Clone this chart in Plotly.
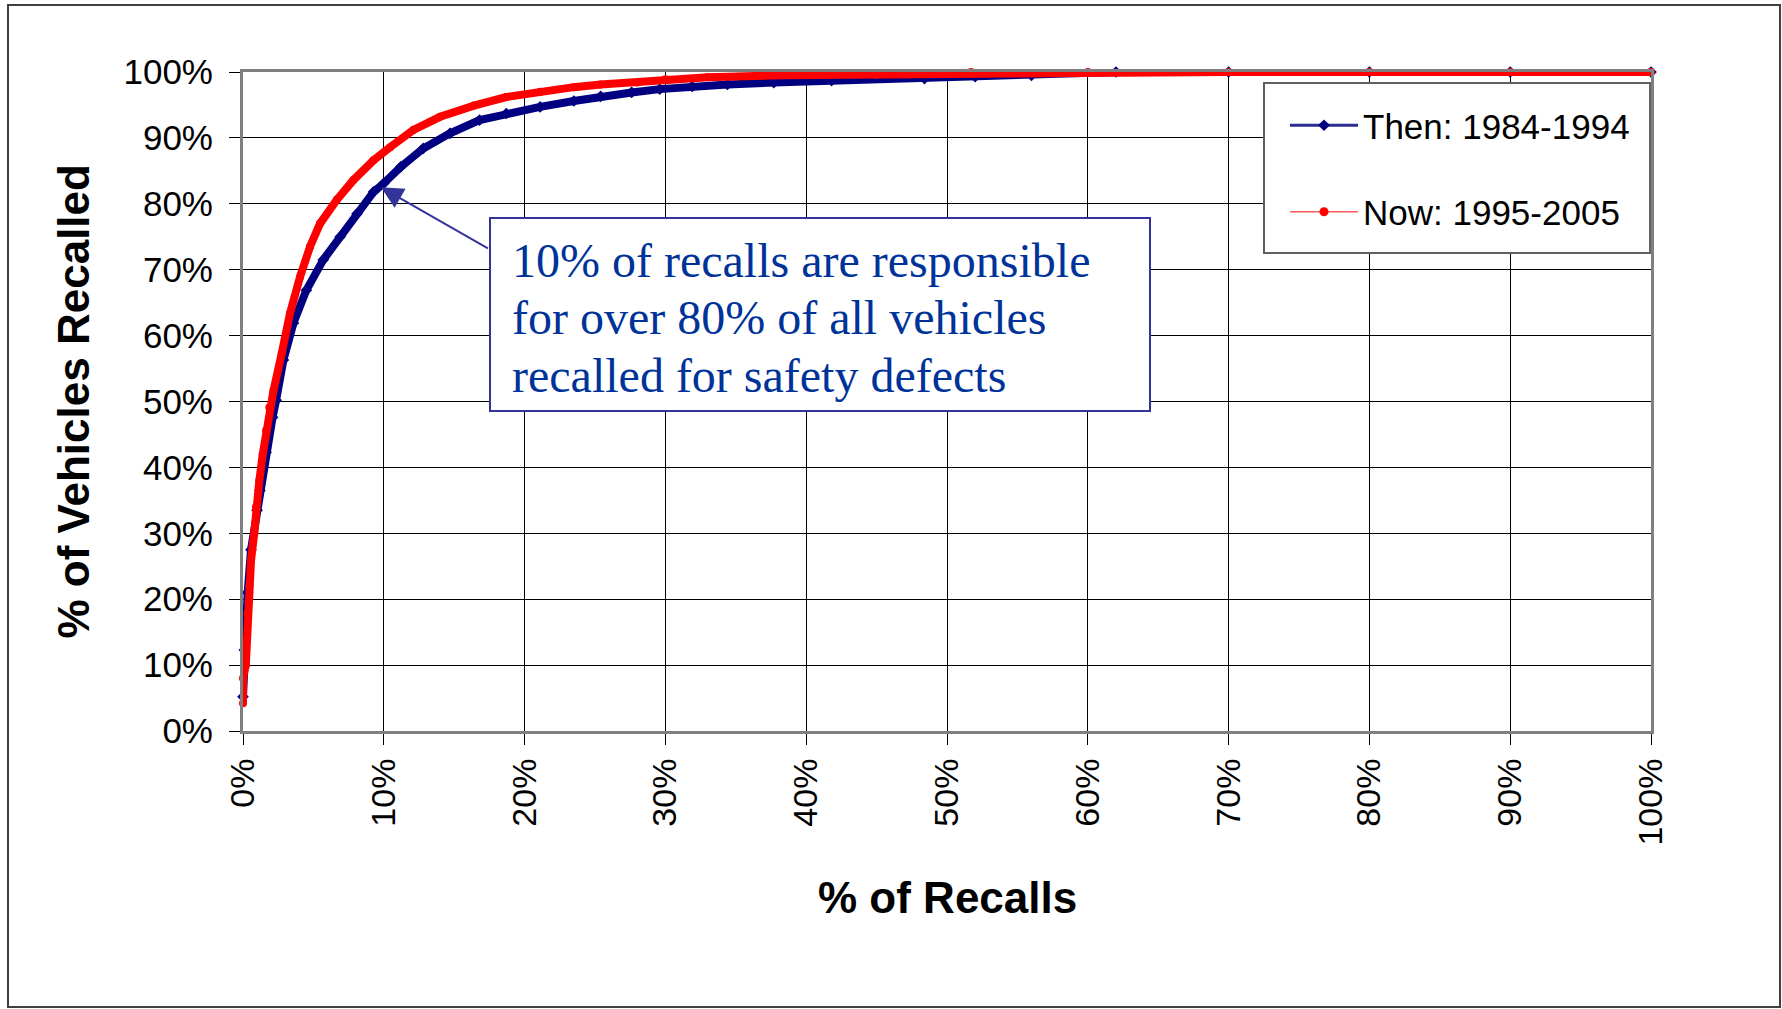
import plotly.graph_objects as go

# ---------------- data ----------------
then_name = "Then: 1984-1994"
then_x = [0, 0.1, 0.33, 0.57, 1.0, 1.2, 1.64, 2.1, 2.35, 2.87, 3.58, 4.5, 5.7, 6.9, 8.1,
          9.27, 10.0, 11.2, 12.8, 14.7, 16.8, 18.7, 21.1, 23.5, 25.4, 27.6, 29.6, 31.9, 34.4,
          37.7, 41.8, 48.4, 52.0, 56.0, 62.0, 70, 80, 90, 100]
then_y = [5.2, 12.3, 21.0, 27.5, 33.5, 36.5, 42.3, 47.6, 50.2, 56.3, 61.9, 66.9, 71.5, 75.0, 78.5,
          81.8, 83.1, 85.6, 88.4, 90.7, 92.7, 93.7, 94.7, 95.6, 96.3, 96.9, 97.4, 97.8, 98.1,
          98.4, 98.7, 99.0, 99.3, 99.5, 100, 100, 100, 100, 100]

now_name = "Now: 1995-2005"
now_x = [0, 0, 0.2, 0.33, 0.45, 0.57, 0.8, 0.92, 1.16, 1.4, 1.64, 1.87, 2.16, 2.75, 3.34,
         4.05, 4.76, 5.47, 6.66, 7.84, 9.27, 10.45, 12.1, 14.0, 16.4, 18.7, 21.1, 23.5, 25.4,
         28.0, 30.0, 33.0, 38.3, 45.0, 51.7, 60, 70, 80, 90, 100]
now_y = [4.2, 8.0, 10.0, 17.8, 21.9, 25.9, 30.0, 34.0, 38.0, 42.0, 45.6, 49.1, 51.6, 57.3, 63.4,
         68.9, 73.5, 77.0, 80.6, 83.6, 86.6, 88.6, 91.2, 93.2, 94.9, 96.2, 97.0, 97.7, 98.1,
         98.4, 98.9, 99.2, 99.5, 99.6, 100, 100, 100, 100, 100, 100]

tick_vals = [0, 10, 20, 30, 40, 50, 60, 70, 80, 90, 100]
tick_text = ["0%", "10%", "20%", "30%", "40%", "50%", "60%", "70%", "80%", "90%", "100%"]

x_title = "% of Recalls"
y_title = "% of Vehicles Recalled"
note_lines = ["10% of recalls are responsible",
              "for over 80% of all vehicles",
              "recalled for safety defects"]
note_point = (9.8, 82.5)
note_tail = (17.5, 73.1)

# ---------------- layout geometry ----------------
W, H = 1782, 1009
L, R, T, B = 243, 131, 72, 278
PW = W - L - R
PH = H - T - B


def px(X):
    return (X - L) / PW


def py(Y):
    return (H - B - Y) / PH


SANS = "Liberation Sans, Arial, sans-serif"
SERIF = "Liberation Serif, Times New Roman, serif"
NAVY = "#000080"
RED = "#FF0000"

fig = go.Figure()

fig.add_trace(go.Scatter(
    x=then_x, y=then_y, mode="lines+markers", showlegend=False, cliponaxis=False,
    line=dict(color=NAVY, width=8), marker=dict(symbol="diamond", size=9, color=NAVY),
))
fig.add_trace(go.Scatter(
    x=now_x, y=now_y, mode="lines+markers", showlegend=False, cliponaxis=False,
    line=dict(color=RED, width=8), marker=dict(symbol="circle", size=8, color=RED),
))

# legend entries
fig.add_trace(go.Scatter(
    x=[None], y=[None], mode="lines+markers", name=then_name, legendgroup="then",
    line=dict(color="#2B2B90", width=3), marker=dict(symbol="diamond", size=9, color=NAVY),
))
fig.add_trace(go.Scatter(
    x=[None], y=[None], mode="lines+markers", name=now_name, legendgroup="now",
    line=dict(color="#FF5A5A", width=1.5), marker=dict(symbol="circle", size=9, color=RED),
))

axis_common = dict(
    range=[0, 100], tickmode="array", tickvals=tick_vals, ticktext=tick_text,
    showgrid=True, gridcolor="#000000", gridwidth=1, zeroline=False,
    showline=True, linecolor="#808080", linewidth=3, mirror=True,
    ticks="outside", ticklen=11, tickwidth=1, tickcolor="#000000",
)

fig.update_layout(
    width=W, height=H,
    margin=dict(l=L, r=R, t=T, b=B, autoexpand=False),
    paper_bgcolor="white", plot_bgcolor="white",
    xaxis=dict(axis_common, tickangle=-90,
               tickfont=dict(family=SANS, size=34, color="#000000")),
    yaxis=dict(axis_common, ticklabelstandoff=9,
               tickfont=dict(family=SANS, size=35, color="#000000")),
    legend=dict(
        x=px(1285), y=py(96), xanchor="left", yanchor="top",
        bgcolor="rgba(0,0,0,0)", borderwidth=0,
        font=dict(family=SANS, size=35, color="#000000"),
        tracegroupgap=38, itemwidth=68,
    ),
    shapes=[
        # outer chart border
        dict(type="rect", xref="paper", yref="paper",
             x0=px(8), x1=px(1780), y0=py(1007), y1=py(5),
             line=dict(color="#404040", width=2), fillcolor="rgba(0,0,0,0)", layer="above"),
        # legend frame
        dict(type="rect", xref="paper", yref="paper",
             x0=px(1264), x1=px(1650), y0=py(253), y1=py(83),
             line=dict(color="#606060", width=2), fillcolor="white", layer="above"),
        # note box
        dict(type="rect", xref="paper", yref="paper",
             x0=px(490), x1=px(1150), y0=py(411), y1=py(218),
             line=dict(color="#333399", width=2), fillcolor="white", layer="above"),
    ],
)

annotations = [
    dict(text="<b>" + x_title + "</b>", xref="paper", yref="paper", x=0.5, y=py(897),
         xanchor="center", yanchor="middle", showarrow=False,
         font=dict(family=SANS, size=44, color="#000000")),
    dict(text="<b>" + y_title + "</b>", xref="paper", yref="paper", x=px(73), y=0.5,
         xanchor="center", yanchor="middle", showarrow=False, textangle=-90,
         font=dict(family=SANS, size=44, color="#000000")),
    dict(text="", x=note_point[0], y=note_point[1], xref="x", yref="y",
         ax=note_tail[0], ay=note_tail[1], axref="x", ayref="y", showarrow=True,
         arrowhead=2, arrowsize=2.2, arrowwidth=2, arrowcolor="#333399", standoff=0),
]
line_y = [260, 317, 375]
for txt, yy in zip(note_lines, line_y):
    annotations.append(dict(
        text=txt, xref="paper", yref="paper", x=px(510), y=py(yy),
        xanchor="left", yanchor="middle", align="left", showarrow=False,
        font=dict(family=SERIF, size=48, color="#003399")))
fig.update_layout(annotations=annotations)

fig.write_html(
    "out.html",
    config={"displayModeBar": False},
    post_script="document.body.style.margin='0';document.body.style.overflow='hidden';",
)
